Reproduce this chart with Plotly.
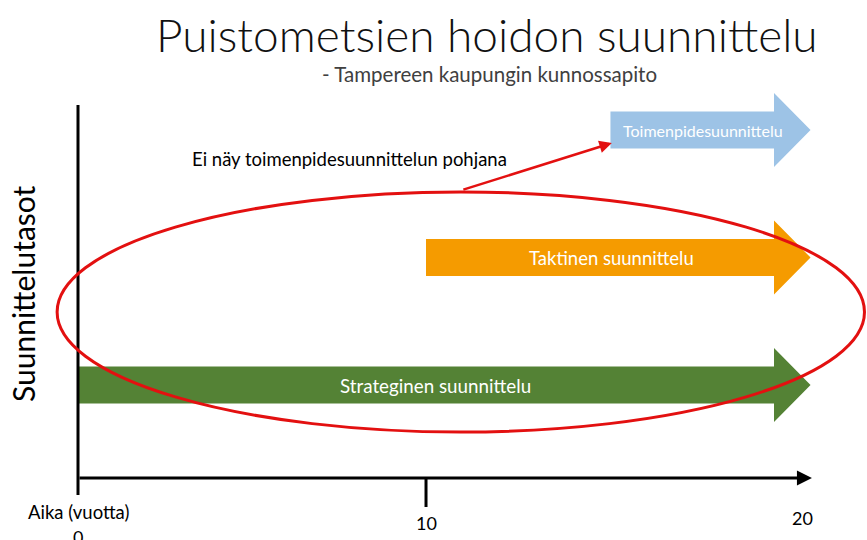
import plotly.graph_objects as go

# ---- data ----
levels = ["Strateginen suunnittelu", "Taktinen suunnittelu", "Toimenpidesuunnittelu"]
level_y = [1, 2, 3]
start_year = [0, 10, 15.3]
end_year = [20, 20, 20]
level_colors = ["#548235", "#F59B00", "#9DC3E6"]
tick_years = [0, 10, 20]
tick_labels = ["0", "10", "20"]

title = "Puistometsien hoidon suunnittelu"
subtitle = "- Tampereen kaupungin kunnossapito"
y_title = "Suunnittelutasot"
x_title = "Aika (vuotta)"
note = "Ei näy toimenpidesuunnittelun pohjana"

# ---- styling / geometry ----
FONT = "Lato"
body_h = 0.145
head_h = 0.29
head_len = 1.05
label_x = [10.27, 15.32, 17.96]
label_size = [18.8, 18.5, 16]
tick_label_pos = [(0, -0.19), (10, -0.082), (20.83, -0.043)]
x_range = [-2.2414, 22.672]
y_range = [-0.2157, 4.0196]
axis_y = 0.2706
x_axis_end = 21.09
y_axis_top = 3.196
y_axis_bottom = 0.137

fig = go.Figure()

for name, y, x0, x1, col in zip(levels, level_y, start_year, end_year, level_colors):
    xs = [x0, x1, x1, x1 + head_len, x1, x1, x0, x0]
    ys = [y - body_h, y - body_h, y - head_h, y, y + head_h, y + body_h, y + body_h, y - body_h]
    fig.add_trace(go.Scatter(x=xs, y=ys, fill="toself", fillcolor=col, mode="lines",
                             line=dict(width=0, color=col), hoverinfo="skip", showlegend=False))

for name, y, lx, fs in zip(levels, level_y, label_x, label_size):
    fig.add_annotation(x=lx, y=y, text=name, showarrow=False,
                       xanchor="center", yanchor="middle",
                       font=dict(family=FONT, size=fs, color="white"))

# axes lines
fig.add_shape(type="line", x0=0, x1=0, y0=y_axis_bottom, y1=y_axis_top,
              line=dict(color="black", width=3))
fig.add_shape(type="line", x0=10, x1=10, y0=0.043, y1=axis_y,
              line=dict(color="black", width=3))
fig.add_annotation(x=x_axis_end, y=axis_y, ax=0, ay=axis_y, xref="x", yref="y",
                   axref="x", ayref="y", showarrow=True, arrowhead=2, arrowsize=1,
                   arrowwidth=3, arrowcolor="black", text="")

# ellipse
fig.add_shape(type="circle", x0=-0.6, x1=22.6, y0=0.631, y1=2.514,
              line=dict(color="#E31010", width=3))

# red pointer
fig.add_annotation(x=15.34, y=2.898, ax=11.03, ay=2.529, xref="x", yref="y",
                   axref="x", ayref="y", showarrow=True, arrowhead=2, arrowsize=1,
                   arrowwidth=2.5, arrowcolor="#E31010", text="")
fig.add_annotation(x=3.22, y=2.773, text=note, showarrow=False, xanchor="left",
                   yanchor="middle",
                   font=dict(family=FONT, size=18.5, color="black"))

# tick labels
for lab, (tx, ty) in zip(tick_labels, tick_label_pos):
    fig.add_annotation(x=tx, y=ty, text=lab, showarrow=False,
                       xanchor="center", yanchor="middle",
                       font=dict(family=FONT, size=18, color="black"))
fig.add_annotation(x=0, y=0.004, text=x_title, showarrow=False,
                   xanchor="center", yanchor="middle",
                   font=dict(family=FONT, size=18.5, color="black"))

# titles
fig.add_annotation(xref="paper", yref="paper", x=486.5 / 867, y=1 - 35 / 540,
                   text=title, showarrow=False, xanchor="center", yanchor="middle",
                   font=dict(family=FONT, size=46, color="#111111", weight=300))
fig.add_annotation(xref="paper", yref="paper", x=489.5 / 867, y=1 - 74 / 540,
                   text=subtitle, showarrow=False, xanchor="center", yanchor="middle",
                   font=dict(family=FONT, size=20.5, color="#404040"))
fig.add_annotation(xref="paper", yref="paper", x=23 / 867, y=1 - 294 / 540,
                   text=y_title, showarrow=False, textangle=-90,
                   xanchor="center", yanchor="middle",
                   font=dict(family=FONT, size=30, color="black"))

fig.update_layout(width=867, height=540, margin=dict(l=0, r=0, t=0, b=0),
                  paper_bgcolor="white", plot_bgcolor="white",
                  xaxis=dict(range=x_range, visible=False, fixedrange=True),
                  yaxis=dict(range=y_range, visible=False, fixedrange=True))

fig.write_html("out.html", config={"displayModeBar": False},
               post_script="document.body.style.margin='0';document.body.style.overflow='hidden';")
